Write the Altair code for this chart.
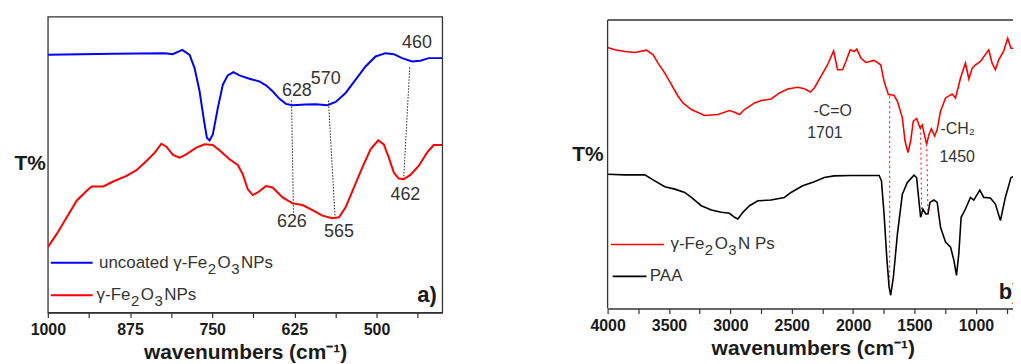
import altair as alt
import pandas as pd

FONT = "Liberation Sans"
INK = "#1a1a1a"
FRAME = "#333333"
TXT = "#333333"

# ---------------- Panel a) ----------------
a_unc_wn = [1000, 900, 822, 810, 795.5, 784.3, 776.8, 769.2, 763.1, 758.1, 754.0, 749.0, 741.4,
            733.8, 726.3, 717.7, 708.6, 693.4, 678.3, 668.2, 658.1, 648.0, 637.9, 627.8, 607.6,
            592.4, 574.7, 562.1, 547.0, 531.8, 516.7, 501.5, 486.4, 473.7, 461.1, 446.0, 433.3,
            420.7, 400]
a_unc_T = [777, 780, 782, 779, 792, 777, 737, 667, 587, 527, 519, 537, 617, 687, 715, 725, 715,
           705, 697, 685, 667, 645, 629, 625, 627, 628, 625, 635, 662, 702, 742, 772, 782, 779,
           767, 757, 759, 767, 767]
a_np_wn = [1000, 986.4, 971.2, 956.1, 940.9, 933.3, 915.7, 900.5, 880.3, 865.2, 850, 837.4, 827.3,
           819.7, 809.6, 799.5, 789.4, 774.2, 761.6, 749, 738.9, 723.7, 711.1, 703.5, 696, 688.4,
           680.8, 668.2, 658.1, 642.9, 627.8, 612.6, 597.5, 582.3, 567.2, 557.1, 547, 534.3,
           521.7, 509.1, 497.5, 488.9, 481.3, 473.7, 466.2, 458.6, 448.5, 435.9, 423.2, 413.1, 400]
a_np_T = [197, 237, 287, 337, 367, 380, 380, 395, 412, 429, 457, 482, 509, 500, 475, 467, 477, 497,
          507, 505, 489, 462, 445, 417, 372, 354, 362, 381, 377, 347, 329, 324, 309, 292, 284, 287,
          317, 377, 437, 492, 519, 507, 467, 422, 404, 402, 415, 442, 482, 505, 505]

a_ticks = [1000, 937.5, 875, 812.5, 750, 687.5, 625, 562.5, 500, 437.5]

a_dot_wn1 = [629.3, 573.2, 449.5]
a_dot_T1 = [639, 639, 739]
a_dot_wn2 = [626.3, 563.1, 458.6]
a_dot_T2 = [297, 289, 407]

a_lbl = ["628", "570", "460", "626", "565", "462"]
a_lbl_wn = [621.2, 577.3, 438.4, 628.8, 557.1, 456.1]
a_lbl_T = [667, 705, 812, 272, 244, 355]

a_leg_series = ["a_uncoated", "a_np"]
a_leg_pieces = [["uncoated \u03b3-Fe", "2", "O", "3", "NPs"], ["\u03b3-Fe", "2", "O", "3", "NPs"]]
a_leg_wn1 = [995.5, 995.5]
a_leg_wn2 = [931.8, 931.8]
a_leg_T = [150, 52]
a_leg_text_wn = [922.2, 925.8]

# ---------------- Panel b) ----------------
b_np_wn = [4000, 3940, 3859, 3778, 3683, 3629, 3589, 3534, 3480, 3426,
           3386, 3318, 3210, 3101, 3007, 2966, 2925, 2885, 2803, 2749,
           2668, 2600, 2533, 2452, 2397, 2349, 2316, 2262, 2208, 2159,
           2127, 2086, 2059, 2024, 1991, 1970, 1937, 1897, 1829, 1775,
           1748, 1713, 1667, 1639, 1599, 1577, 1553, 1531, 1510, 1483,
           1455, 1437, 1423, 1401, 1382, 1363, 1336, 1315, 1288, 1247,
           1193, 1166, 1125, 1085, 1057, 1030, 1003, 963, 895, 868,
           841, 814, 773, 741, 714, 657]
b_np_T = [787, 780, 775, 772, 779, 765, 740, 710, 675, 640,
          620, 600, 582, 585, 597, 592, 585, 600, 620, 627,
          632, 650, 662, 667, 663, 653, 665, 700, 735, 777,
          720, 720, 745, 780, 775, 782, 755, 742, 748, 735,
          685, 645, 643, 625, 575, 505, 470, 505, 565, 573,
          545, 553, 530, 495, 525, 542, 520, 540, 595, 635,
          647, 635, 695, 740, 692, 725, 735, 745, 780, 740,
          720, 750, 777, 815, 785, 785]
b_paa_wn = [4000, 3859, 3697, 3616, 3534, 3453, 3372, 3318, 3237, 3155,
            3074, 3007, 2966, 2939, 2898, 2844, 2776, 2668, 2560, 2506,
            2411, 2316, 2235, 2154, 2018, 1788, 1769, 1748, 1726, 1707,
            1694, 1672, 1639, 1599, 1558, 1504, 1483, 1464, 1450, 1431,
            1409, 1390, 1374, 1342, 1315, 1288, 1247, 1206, 1179, 1158,
            1139, 1120, 1085, 1044, 1017, 968, 936, 882, 841, 800,
            760, 714, 679, 657]
b_paa_T = [405, 403, 403, 385, 367, 360, 350, 335, 310, 297,
           290, 287, 275, 270, 290, 310, 325, 327, 335, 350,
           370, 382, 395, 400, 401, 401, 385, 285, 155, 65,
           40, 95, 225, 345, 380, 402, 395, 325, 275, 300,
           285, 285, 320, 327, 320, 245, 200, 185, 145, 100,
           165, 275, 300, 335, 327, 357, 335, 333, 315, 265,
           335, 395, 400, 390]

b_ticks = [4000, 3750, 3500, 3250, 3000, 2750, 2500, 2250, 2000, 1750, 1500, 1250, 1000, 750]

b_dot_wn1 = [1702, 1450, 1401]
b_dot_T1 = [640, 545, 495]
b_dot_wn2 = [1702, 1442, 1390]
b_dot_T2 = [65, 285, 285]

b_lbl = ["-C=O", "1701", "1450"]
b_lbl_wn = [2167, 2230, 1152]
b_lbl_T = [597, 529, 457]
b_ch_text = ["-CH\u2082"]
b_ch_wn = [1288]
b_ch_T = [542]

b_leg_series = ["b_np", "b_paa"]
b_leg_pieces = [["\u03b3-Fe", "2", "O", "3", "N Ps"], ["PAA"]]
b_leg_wn1 = [3973, 3959]
b_leg_wn2 = [3540, 3683]
b_leg_T = [193, 97]
b_leg_text_wn = [3488, 3656]

b_frame_top_T = [870]
b_frame_wn = [4000]
b_frame_wn_end = [657]

XTITLE = "wavenumbers (cm\u207b\u00b9)"

series_names = ["a_uncoated", "a_np", "b_np", "b_paa"]
series_colors = ["#0000ff", "#ff0000", "#ff0000", "#000000"]
COLOR = alt.Scale(domain=series_names, range=series_colors)

# approximate Arial / Liberation Sans advance widths (em) for legend layout
ADV = {"u": .556, "n": .556, "c": .5, "o": .556, "a": .556, "t": .278, "e": .556, "d": .556,
       " ": .278, "\u03b3": .5, "-": .333, "F": .611, "O": .778, "N": .722, "P": .667,
       "s": .5, "2": .556, "3": .556, "A": .667}
MAIN_SIZE = 17
SUB_SIZE = 15
SUB_DROP = 6


def text_w(s, size):
    return sum(ADV.get(ch, .556) for ch in s) * size


def rich_rows(anchor_wn, anchor_T, pieces, px_per_wn, px_per_T):
    rows = []
    dx = 0.0
    for p in pieces:
        is_sub = p in ("2", "3") and len(pieces) > 1
        size = SUB_SIZE if is_sub else MAIN_SIZE
        dy = SUB_DROP if is_sub else 0
        rows.append({"wn": anchor_wn - dx / px_per_wn, "T": anchor_T - dy / px_per_T,
                     "label": p, "size": size})
        dx += text_w(p, size) + (1.5 if is_sub else 0.5)
    return rows


def lines_df(parts):
    frames = []
    for wn, T, s in parts:
        frames.append(pd.DataFrame({"wn": wn, "T": T, "series": s, "i": list(range(len(wn)))}))
    return pd.concat(frames, ignore_index=True)


def x_axis(values, major):
    return alt.Axis(values=values, format="d",
                    labelExpr=f"datum.value % {major} == 0 ? datum.label : ''",
                    labelFlush=False, labelOverlap=False, grid=False, domain=True,
                    domainColor=FRAME, domainWidth=1.3, tickColor=FRAME, tickWidth=1.2,
                    tickSize=5, labelPadding=4, labelFont=FONT, labelFontSize=16,
                    labelFontWeight="bold", labelColor=INK, title=XTITLE, titleFont=FONT,
                    titleFontSize=21, titleFontWeight="bold", titleColor=INK, titlePadding=4)


def y_axis(tx, ty):
    return alt.Axis(labels=False, ticks=False, domain=False, grid=False, title="T%",
                    titleAngle=0, titleAlign="left", titleBaseline="middle", titleX=tx,
                    titleY=ty, titleFont=FONT, titleFontSize=21, titleFontWeight="bold",
                    titleColor=INK)


def panel(xs, ys, xaxis, yaxis, lines, line_w, dots, dot_color, dot_dash,
          labels, label_size, legend, legend_text, tag, extra=None, width=396, height=297,
          view=None):
    def X(f):
        return alt.X(f, scale=xs, axis=xaxis, title=XTITLE)

    def Y(f):
        return alt.Y(f, scale=ys, axis=yaxis, title="T%")

    base_lines = alt.Chart(lines).mark_line(strokeWidth=line_w, clip=True).encode(
        x=X("wn:Q"), y=Y("T:Q"),
        color=alt.Color("series:N", scale=COLOR, legend=None),
        order="i:Q",
    )
    dot_layer = alt.Chart(dots).mark_rule(color=dot_color, strokeWidth=1, strokeDash=dot_dash).encode(
        x=X("wn:Q"), x2="wn2:Q", y=Y("T:Q"), y2="T2:Q",
    )
    label_layer = alt.Chart(labels).mark_text(font=FONT, fontSize=label_size, color=TXT,
                                              align="center", baseline="middle").encode(
        x=X("wn:Q"), y=Y("T:Q"), text="label:N",
    )
    leg_lines = alt.Chart(legend).mark_rule(strokeWidth=line_w).encode(
        x=X("wn:Q"), x2="wn2:Q", y=Y("T:Q"),
        color=alt.Color("series:N", scale=COLOR, legend=None),
    )
    leg_text = alt.Chart(legend_text).mark_text(font=FONT, color=TXT,
                                                align="left", baseline="middle").encode(
        x=X("wn:Q"), y=Y("T:Q"), text="label:N",
        size=alt.Size("size:Q", scale=None, legend=None),
    )
    tag_layer = alt.Chart(tag).mark_text(font=FONT, fontSize=22, fontWeight="bold", color=INK,
                                         align="left", baseline="middle", clip=True).encode(
        x=X("wn:Q"), y=Y("T:Q"), text="label:N",
    )
    layers = [base_lines, dot_layer, label_layer, leg_lines, leg_text, tag_layer]
    if extra is not None:
        layers += extra(X, Y)
    return alt.layer(*layers).properties(width=width, height=height, view=view)


# ---- panel a
A_W, A_H = 396, 297
xs_a = alt.Scale(domain=[400, 1000], reverse=True, nice=False, zero=False)
ys_a = alt.Scale(domain=[0, 892], nice=False, zero=False)

a_lines = lines_df([(a_unc_wn, a_unc_T, "a_uncoated"), (a_np_wn, a_np_T, "a_np")])
a_dots = pd.DataFrame({"wn": a_dot_wn1, "T": a_dot_T1, "wn2": a_dot_wn2, "T2": a_dot_T2})
a_labels = pd.DataFrame({"wn": a_lbl_wn, "T": a_lbl_T, "label": a_lbl})
a_legend = pd.DataFrame({"wn": a_leg_wn1, "wn2": a_leg_wn2, "T": a_leg_T,
                         "series": a_leg_series})
a_leg_rows = []
for w0, t0, pcs in zip(a_leg_text_wn, a_leg_T, a_leg_pieces):
    a_leg_rows += rich_rows(w0, t0, pcs, A_W / 600, A_H / 892)
a_legend_text = pd.DataFrame(a_leg_rows)
a_tag = pd.DataFrame({"wn": [438], "T": [52], "label": ["a)"]})

panel_a = panel(xs_a, ys_a, x_axis(a_ticks, 125), y_axis(-34, 147), a_lines, 2,
                a_dots, "#222222", [1.5, 1.5], a_labels, 18, a_legend, a_legend_text, a_tag,
                width=A_W, height=A_H,
                view=alt.ViewBackground(stroke=FRAME, strokeWidth=1.3))

# ---- panel b
B_W, B_H = 412, 293
xs_b = alt.Scale(domain=[657, 4000], reverse=True, nice=False, zero=False)
ys_b = alt.Scale(domain=[0, 880], nice=False, zero=False)

b_lines = lines_df([(b_np_wn, b_np_T, "b_np"), (b_paa_wn, b_paa_T, "b_paa")])
b_dots = pd.DataFrame({"wn": b_dot_wn1, "T": b_dot_T1, "wn2": b_dot_wn2, "T2": b_dot_T2})
b_labels = pd.DataFrame({"wn": b_lbl_wn, "T": b_lbl_T, "label": b_lbl})
b_legend = pd.DataFrame({"wn": b_leg_wn1, "wn2": b_leg_wn2, "T": b_leg_T,
                         "series": b_leg_series})
b_leg_rows = []
for w0, t0, pcs in zip(b_leg_text_wn, b_leg_T, b_leg_pieces):
    b_leg_rows += rich_rows(w0, t0, pcs, B_W / 3343, B_H / 880)
b_legend_text = pd.DataFrame(b_leg_rows)
b_tag = pd.DataFrame({"wn": [814], "T": [50], "label": ["b)"]})
b_ch = pd.DataFrame({"wn": b_ch_wn, "T": b_ch_T, "label": b_ch_text})
b_top = pd.DataFrame({"wn": b_frame_wn, "wn2": b_frame_wn_end, "T": b_frame_top_T})
b_left = pd.DataFrame({"wn": b_frame_wn, "T": [0], "T2": b_frame_top_T})


def b_extra(X, Y):
    ch = alt.Chart(b_ch).mark_text(font=FONT, fontSize=16, color=TXT, align="left",
                                   baseline="middle").encode(x=X("wn:Q"), y=Y("T:Q"), text="label:N")
    top = alt.Chart(b_top).mark_rule(color=FRAME, strokeWidth=1.3).encode(
        x=X("wn:Q"), x2="wn2:Q", y=Y("T:Q"))
    left = alt.Chart(b_left).mark_rule(color=FRAME, strokeWidth=1.3).encode(
        x=X("wn:Q"), y=Y("T:Q"), y2="T2:Q")
    return [ch, top, left]


panel_b = panel(xs_b, ys_b, x_axis(b_ticks, 500), y_axis(-36, 138), b_lines, 1.6,
                b_dots, "#ff0000", [2, 3], b_labels, 16, b_legend, b_legend_text, b_tag,
                extra=b_extra, width=B_W, height=B_H,
                view=alt.ViewBackground(strokeOpacity=0))

chart = alt.hconcat(panel_a, panel_b, spacing=129).resolve_scale(
    x="independent", y="independent", size="independent"
).properties(
    padding={"left": 5, "top": 7, "right": -6, "bottom": 0}
).configure_view(strokeWidth=0).configure(background="white")

chart.save("out.html", embed_options={"renderer": "svg", "actions": False})
